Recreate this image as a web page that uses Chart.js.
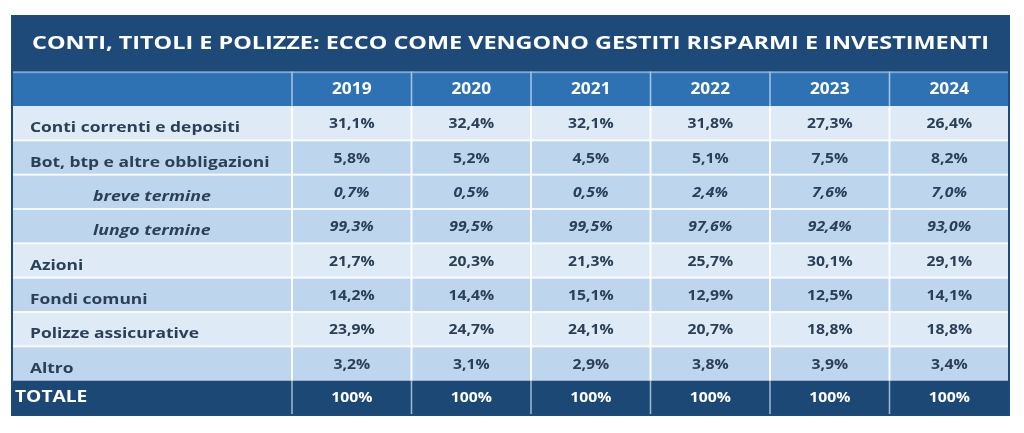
<!DOCTYPE html>
<html>
<head>
<meta charset="utf-8">
<script src="https://cdn.jsdelivr.net/npm/chart.js@4.4.1/dist/chart.umd.min.js"></script>
<style>
  html, body { margin: 0; padding: 0; background: #ffffff; }
  canvas { display: block; }
</style>
</head>
<body>
<canvas id="table" width="1024" height="433"></canvas>
<script>
(function () {
  "use strict";

  var title = "CONTI, TITOLI E POLIZZE: ECCO COME VENGONO GESTITI RISPARMI E INVESTIMENTI";
  var years = ["2019", "2020", "2021", "2022", "2023", "2024"];
  var rowLabels = [
    "Conti correnti e depositi",
    "Bot, btp e altre obbligazioni",
    "breve termine",
    "lungo termine",
    "Azioni",
    "Fondi comuni",
    "Polizze assicurative",
    "Altro",
    "TOTALE"
  ];
  // sotto-voci di "Bot, btp e altre obbligazioni"
  var subRows = ["breve termine", "lungo termine"];

  var conti = [31.1, 32.4, 32.1, 31.8, 27.3, 26.4];
  var obbligazioni = [5.8, 5.2, 4.5, 5.1, 7.5, 8.2];
  var breve = [0.7, 0.5, 0.5, 2.4, 7.6, 7.0];
  var lungo = [99.3, 99.5, 99.5, 97.6, 92.4, 93.0];
  var azioni = [21.7, 20.3, 21.3, 25.7, 30.1, 29.1];
  var fondi = [14.2, 14.4, 15.1, 12.9, 12.5, 14.1];
  var polizze = [23.9, 24.7, 24.1, 20.7, 18.8, 18.8];
  var altro = [3.2, 3.1, 2.9, 3.8, 3.9, 3.4];
  var totale = [100, 100, 100, 100, 100, 100];

  var series = [conti, obbligazioni, breve, lungo, azioni, fondi, polizze, altro, totale];

  var FONT = "'Open Sans', 'DejaVu Sans', sans-serif";
  var TITLE_BG = "#1d4a78";
  var HEAD_BG = "#2e72b4";
  var ROW_LIGHT = "#deeaf6";
  var ROW_DARK = "#bed6ed";
  var TOTAL_BG = "#1c4875";
  var TEXT = "#2b3f56";
  var TABLE_LEFT = 12;
  var TITLE_TOP = 16;
  var STRETCH = 1.16;

  function fmt(v, isTotal) {
    if (isTotal) {
      return v.toFixed(0) + "%";
    }
    return v.toFixed(1).replace(".", ",") + "%";
  }

  // text drawn slightly wider, the original face is a broad geometric sans
  function wideText(ctx, text, x, y, sx) {
    ctx.save();
    ctx.translate(x, y);
    ctx.scale(sx, 1);
    ctx.fillText(text, 0, 0);
    ctx.restore();
  }

  function fitText(ctx, text, x, y, maxW) {
    var w = ctx.measureText(text).width;
    wideText(ctx, text, x, y, w > 0 ? maxW / w : 1);
  }

  var tablePlugin = {
    id: "tablePlugin",
    afterDraw: function (chart) {
      var ctx = chart.ctx;
      var xs = chart.scales.x;
      var ys = chart.scales.y;
      var left = TABLE_LEFT;
      var right = xs.right;
      var rowH = ys.getPixelForValue(0.5) - ys.getPixelForValue(-0.5);
      var headTop = ys.top - rowH;

      ctx.save();

      // title band
      ctx.fillStyle = TITLE_BG;
      ctx.fillRect(left, TITLE_TOP, right - left, headTop - TITLE_TOP);
      ctx.fillStyle = "#ffffff";
      ctx.font = "700 18px " + FONT;
      ctx.textBaseline = "middle";
      ctx.textAlign = "left";
      fitText(ctx, title, left + 20, (TITLE_TOP + headTop) / 2, right - left - 40);

      // header row
      ctx.fillStyle = HEAD_BG;
      ctx.fillRect(left, headTop, right - left, rowH);
      ctx.fillStyle = "#7fa9d6";
      ctx.fillRect(left, headTop, right - left, 1.5);
      ctx.font = "700 16px " + FONT;
      ctx.textAlign = "center";
      ctx.fillStyle = "#ffffff";
      years.forEach(function (yr, i) {
        wideText(ctx, yr, xs.getPixelForValue(i), headTop + rowH / 2 + 1, 1.08);
      });

      // body rows
      var mainIndex = -1;
      rowLabels.forEach(function (label, r) {
        var top = ys.getPixelForValue(r - 0.5);
        var bottom = ys.getPixelForValue(r + 0.5);
        var isTotal = r === rowLabels.length - 1;
        var isSub = subRows.indexOf(label) !== -1;
        if (!isSub) {
          mainIndex++;
        }
        ctx.fillStyle = isTotal ? TOTAL_BG : (mainIndex % 2 === 0 ? ROW_LIGHT : ROW_DARK);
        ctx.fillRect(left, top, right - left, bottom - top);

        var cy = (top + bottom) / 2;
        ctx.fillStyle = isTotal ? "#ffffff" : TEXT;
        ctx.textAlign = "left";
        if (isTotal) {
          ctx.font = "700 16px " + FONT;
          wideText(ctx, label, left + 3, cy, 1.2);
        } else if (isSub) {
          ctx.font = "italic 700 15px " + FONT;
          wideText(ctx, label, left + 81, cy + 5, 1.18);
        } else {
          ctx.font = "700 15px " + FONT;
          wideText(ctx, label, left + 18, cy + 5, STRETCH);
        }

        ctx.textAlign = "center";
        ctx.font = (isSub ? "italic 700 15px " : "700 15px ") + FONT;
        series[r].forEach(function (v, i) {
          wideText(ctx, fmt(v, isTotal), xs.getPixelForValue(i), cy + (isTotal ? 0 : 1), 1.05);
        });

        if (r > 0 && !isTotal) {
          ctx.fillStyle = "rgba(255,255,255,0.85)";
          ctx.fillRect(left, top - 1, right - left, 2);
        }
      });

      // vertical separators
      for (var i = 0; i < years.length; i++) {
        var x = xs.getPixelForValue(i - 0.5);
        ctx.fillStyle = "#a7c7e8";
        ctx.fillRect(x - 0.75, headTop, 1.5, rowH);
        ctx.fillStyle = "rgba(255,255,255,0.9)";
        ctx.fillRect(x - 1, ys.top, 2, ys.getPixelForValue(rowLabels.length - 1.5) - ys.top);
        ctx.fillStyle = "#9db9d6";
        ctx.fillRect(x - 0.75, ys.getPixelForValue(rowLabels.length - 1.5), 1.5, rowH);
      }

      // outer border
      ctx.strokeStyle = TITLE_BG;
      ctx.lineWidth = 2;
      ctx.strokeRect(left, TITLE_TOP, right - left, ys.bottom - TITLE_TOP);

      ctx.restore();
    }
  };

  new Chart(document.getElementById("table"), {
    type: "bar",
    data: {
      labels: years,
      datasets: []
    },
    options: {
      responsive: false,
      animation: false,
      events: [],
      layout: {
        padding: { left: 292, right: 15, top: 106, bottom: 18 }
      },
      plugins: {
        legend: { display: false },
        tooltip: { enabled: false },
        title: { display: false }
      },
      scales: {
        x: { type: "category", offset: true, display: false },
        y: { type: "category", labels: rowLabels, offset: true, display: false }
      }
    },
    plugins: [tablePlugin]
  });
})();
</script>
</body>
</html>
